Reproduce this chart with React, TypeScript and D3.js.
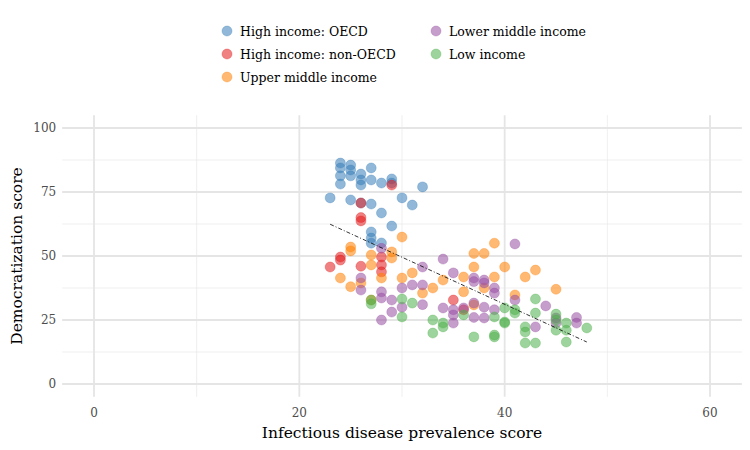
import { useEffect, useRef } from 'react';
import * as d3 from 'd3';

const groups = ['High income: OECD', 'High income: non-OECD', 'Upper middle income', 'Lower middle income', 'Low income'];
const colors = ['#377eb8', '#e41a1c', '#ff7f00', '#984ea3', '#4daf4a'];

// [infectious disease score, democratization score]
const oecd = [
  [23, 72.7], [24, 86.3], [24, 84.4], [24, 81.3], [24, 78.1], [25, 85.5], [25, 83.6], [25, 81.3],
  [26, 82], [26, 79.7], [26, 77.7], [27, 84.4], [27, 79.7], [28, 78.5], [29, 80.1], [29, 78.5],
  [25, 71.9], [26, 70.7], [27, 70.3], [28, 66.8], [30, 72.7], [31, 69.9], [29, 61.7], [28, 55.1],
  [27, 59.4], [32, 77], [27, 57], [27, 55],
];
const nonOecd = [
  [29, 77.7], [26, 70.7], [26, 65], [26, 63.7], [24, 49.6], [24, 48.4], [23, 45.7], [26, 46],
  [28, 49.6], [28, 46.5], [28, 43.8], [35, 32.8], [36, 29],
];
const upperMiddle = [
  [25, 53.5], [25, 52], [24, 41.4], [25, 38], [26, 39.5], [27, 50.4], [27, 46.5], [28, 41.4],
  [29, 51.6], [29, 49.2], [30, 57.4], [30, 41.4], [31, 43.4], [27, 32.8], [32, 35.5], [33, 37.5],
  [34, 40.6], [36, 41.8], [36, 36], [37, 51], [38, 51], [39, 55], [37, 45.7], [39, 41.8],
  [40, 45.7], [38, 37.5], [41, 34.8], [42, 41.8], [43, 44.5], [45, 37], [37, 30.9],
];
const lowerMiddle = [
  [26, 41.4], [26, 36.7], [28, 53], [28, 36], [28, 33.6], [29, 32.8], [29, 28.1], [30, 30],
  [31, 38.7], [28, 25], [30, 37.5], [32, 45.7], [32, 38.7], [32, 31], [34, 48.8], [35, 43.4],
  [34, 29.7], [35, 29], [35, 27], [35, 23.8], [37, 41.4], [37, 40], [38, 40.6], [38, 39.5],
  [39, 37.5], [39, 35.5], [41, 54.7], [41, 32.8], [37, 31.6], [36, 29.7], [38, 30], [38, 25.8],
  [39, 29], [37, 26], [44, 30.5], [45, 25.8], [45, 23.8], [43, 22.3], [47, 26], [47, 23.8],
];
const low = [
  [27, 32.8], [27, 31.3], [30, 33.2], [31, 31.6], [30, 26.2], [33, 25], [33, 19.9], [34, 23.8],
  [34, 22.3], [36, 27], [37, 18.4], [39, 26.2], [39, 19.1], [39, 18.4], [40, 29.7], [40, 24.2],
  [40, 23.8], [41, 29], [41, 27.7], [42, 22.3], [42, 20.3], [42, 16], [43, 33.2], [43, 27.7],
  [43, 16], [45, 27.3], [45, 25], [45, 21], [46, 23.8], [46, 21], [46, 16.4], [48, 21.9],
];
const series = [oecd, nonOecd, upperMiddle, lowerMiddle, low];
const xTicks = [0, 20, 40, 60];
const yTicks = [0, 25, 50, 75, 100];

const font = '"DejaVu Serif", serif';

export default function App() {
  const ref = useRef<SVGSVGElement>(null);

  useEffect(() => {
    if (!ref.current) return;
    const svg = d3.select(ref.current);
    svg.selectAll('*').remove();

    const x = d3.scaleLinear().domain([0, 60]).range([94, 710]);
    const y = d3.scaleLinear().domain([0, 100]).range([384, 128]);
    const [px0, px1] = [x(-3.1), x(63.1)];
    const [py0, py1] = [y(-5), y(105)];

    const grid = svg.append('g');
    d3.range(10, 60, 20).forEach((v) =>
      grid.append('line').attr('x1', x(v)).attr('x2', x(v)).attr('y1', py1).attr('y2', py0)
        .attr('stroke', '#ebebeb').attr('stroke-width', 0.8));
    d3.range(12.5, 100, 25).forEach((v) =>
      grid.append('line').attr('x1', px0).attr('x2', px1).attr('y1', y(v)).attr('y2', y(v))
        .attr('stroke', '#ebebeb').attr('stroke-width', 0.8));
    xTicks.forEach((v) =>
      grid.append('line').attr('x1', x(v)).attr('x2', x(v)).attr('y1', py1).attr('y2', py0)
        .attr('stroke', '#e5e5e5').attr('stroke-width', 1.8));
    yTicks.forEach((v) =>
      grid.append('line').attr('x1', px0).attr('x2', px1).attr('y1', y(v)).attr('y2', y(v))
        .attr('stroke', '#e5e5e5').attr('stroke-width', 1.8));

    xTicks.forEach((v) =>
      svg.append('text').attr('x', x(v)).attr('y', py0 + 20).attr('text-anchor', 'middle')
        .attr('font-family', font).attr('font-size', 12).attr('fill', '#4d4d4d').text(v));
    yTicks.forEach((v) =>
      svg.append('text').attr('x', px0 - 6).attr('y', y(v)).attr('text-anchor', 'end')
        .attr('dominant-baseline', 'central')
        .attr('font-family', font).attr('font-size', 12).attr('fill', '#4d4d4d').text(v));

    svg.append('text').attr('x', (px0 + px1) / 2).attr('y', 438).attr('text-anchor', 'middle')
      .attr('font-family', font).attr('font-size', 15.5).attr('fill', '#000')
      .text('Infectious disease prevalence score');
    svg.append('text').attr('transform', `translate(22, ${(py0 + py1) / 2}) rotate(-90)`)
      .attr('text-anchor', 'middle').attr('font-family', font).attr('font-size', 15.5)
      .attr('fill', '#000').text('Democratization score');

    series.forEach((pts, i) => {
      svg.append('g').selectAll('circle').data(pts).enter().append('circle')
        .attr('cx', (d) => x(d[0])).attr('cy', (d) => y(d[1])).attr('r', 5)
        .attr('fill', colors[i]).attr('fill-opacity', 0.55)
        .attr('stroke', colors[i]).attr('stroke-opacity', 0.3);
    });

    // overall linear fit
    const all = series.flat();
    const mx = d3.mean(all, (d) => d[0])!;
    const my = d3.mean(all, (d) => d[1])!;
    const slope = d3.sum(all, (d) => (d[0] - mx) * (d[1] - my)) / d3.sum(all, (d) => (d[0] - mx) ** 2);
    const [xmin, xmax] = d3.extent(all, (d) => d[0]) as [number, number];
    const f = (v: number) => my + slope * (v - mx);
    svg.append('line').attr('x1', x(xmin)).attr('y1', y(f(xmin))).attr('x2', x(xmax)).attr('y2', y(f(xmax)))
      .attr('stroke', '#000').attr('stroke-width', 0.8).attr('stroke-dasharray', '4,2,1,2');

    const legendPos = [[227, 31], [227, 54], [227, 77], [436, 31], [436, 54]];
    groups.forEach((g, i) => {
      const [lx, ly] = legendPos[i];
      svg.append('circle').attr('cx', lx).attr('cy', ly).attr('r', 5)
        .attr('fill', colors[i]).attr('fill-opacity', 0.55).attr('stroke', colors[i]).attr('stroke-opacity', 0.3);
      svg.append('text').attr('x', lx + 13).attr('y', ly).attr('dominant-baseline', 'central')
        .attr('font-family', font).attr('font-size', 12.5).attr('fill', '#000').text(g);
    });
  }, []);

  return (
    <div style={{ position: 'absolute', left: 0, top: 0 }}>
      <svg ref={ref} width={750} height={450} style={{ display: 'block', background: '#fff' }} />
    </div>
  );
}
